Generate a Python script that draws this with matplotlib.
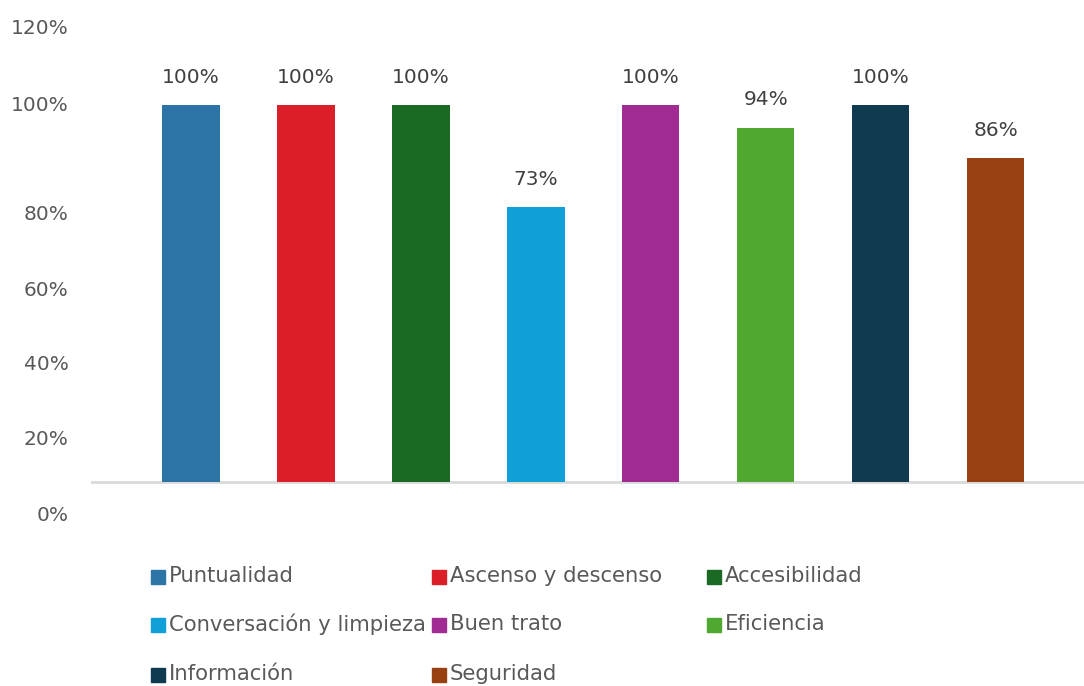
import matplotlib.pyplot as plt
from matplotlib.patches import Rectangle

# Chart data
categories = ['Puntualidad', 'Ascenso y descenso', 'Accesibilidad',
              'Conversación y limpieza', 'Buen trato', 'Eficiencia',
              'Información', 'Seguridad']
values = [1.00, 1.00, 1.00, 0.73, 1.00, 0.94, 1.00, 0.86]
value_labels = ['100%', '100%', '100%', '73%', '100%', '94%', '100%', '86%']
colors = ['#2C73A6', '#DA1F28', '#1A6A24', '#119FD8',
          '#A02C93', '#4FA830', '#0F3A50', '#984012']
tick_labels = ['0%', '20%', '40%', '60%', '80%', '100%', '120%']

plt.rcParams['font.family'] = ['DejaVu Sans']

W, H = 1084, 686
fig = plt.figure(figsize=(W / 100, H / 100), dpi=100)

# axes placed in pixel terms: baseline at y=482, 100% at y=105
y0, ppu = 482, 377
ylo, yhi = -0.1, 1.27
left_px, right_px = 91, 1084
bottom_px = y0 + (-ylo) * ppu
top_px = y0 - yhi * ppu
ax = fig.add_axes([left_px / W, 1 - bottom_px / H,
                   (right_px - left_px) / W, (bottom_px - top_px) / H])

x = range(len(categories))
ax.bar(x, values, width=0.5, color=colors, zorder=2)
ax.axhline(0, color='#D9D9D9', linewidth=2, zorder=1)

for i, (v, lab) in enumerate(zip(values, value_labels)):
    ax.annotate(lab, (i, v), xytext=(0, 20), textcoords='offset points',
                ha='center', va='center', fontsize=14.5, color='#404040')

ax.set_xlim(-0.87, 7.77)
ax.set_ylim(ylo, yhi)

# the tick labels in the source sit at uneven heights
ax.set_yticks([-0.084, 0.118, 0.316, 0.512, 0.714, 1.005, 1.207])
ax.set_yticklabels(tick_labels, fontsize=14.5, color='#595959')
ax.tick_params(axis='y', length=0, pad=16)
ax.set_xticks([])
for s in ax.spines.values():
    s.set_visible(False)

# legend drawn by hand, filled row by row like the original
col_x = [151, 432, 707]
row_y = [577, 625, 675]
sq = 14
for k, (name, c) in enumerate(zip(categories, colors)):
    r, cidx = divmod(k, 3)
    px, py = col_x[cidx], row_y[r]
    fig.patches.append(Rectangle(((px) / W, 1 - (py + sq / 2) / H), sq / W, sq / H,
                                 transform=fig.transFigure, color=c))
    fig.text((px + sq + 4) / W, 1 - (py - 1) / H, name, fontsize=15.2,
             color='#595959', ha='left', va='center')

plt.savefig('out.png', dpi=100)
